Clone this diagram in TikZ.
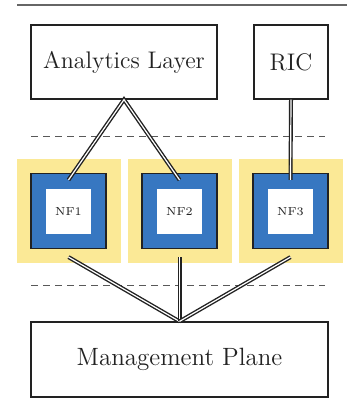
\documentclass[tikz,border=0pt]{standalone}
\usetikzlibrary{calc}
\definecolor{nfyellow}{HTML}{FBE996}
\definecolor{nfblue}{HTML}{3777C1}
\definecolor{ink}{HTML}{222222}
\begin{document}
\begin{tikzpicture}[x=0.5pt,y=-0.5pt,
  layerbox/.style={draw=ink, line width=0.6pt, fill=white, inner sep=0pt,
    font=\fontsize{12}{14}\selectfont, text=ink},
  halo/.style={fill=nfyellow, draw=none, minimum size=52pt, inner sep=0pt},
  nfbox/.style={fill=nfblue, draw=ink, line width=0.6pt, minimum size=37.5pt, inner sep=0pt},
  nfcore/.style={fill=white, draw=none, minimum size=22.5pt, inner sep=0pt,
    font=\fontsize{5.8}{7}\selectfont, text=ink},
  link/.style={draw=ink, line width=0.7pt, double=white, double distance=0.6pt},
  sep/.style={draw=black!65, line width=0.4pt, dash pattern=on 3.5pt off 2.5pt}]
\useasboundingbox (0,0) rectangle (347,410);

% rule across the top
\draw[black!60, line width=0.6pt] (17,5) -- (347,5);

% upper layer
\node[layerbox, minimum width=93pt, minimum height=37pt] (al) at (124,62) {Analytics Layer};
\node[layerbox, minimum width=37pt, minimum height=37pt] (ric) at (291,62) {RIC};

% separators
\draw[sep] (31,136) -- (325,136);
\draw[sep] (31,285) -- (325,285);

% network functions
\foreach \i/\x in {1/69, 2/180, 3/291} {
  \node[halo] (h\i) at (\x,211) {};
  \node[nfbox] (b\i) at (\x-0.5,211) {};
  \node[nfcore] (c\i) at (\x-0.5,211.5) {NF\i};
}

% management layer
\node[layerbox, minimum width=148.5pt, minimum height=37.5pt,
  font=\fontsize{12.5}{14}\selectfont] (mp) at (179.5,359.5) {Management Plane};

% links
\draw[link] ([yshift=-3.5pt]b1.north) -- (al.south) -- ([yshift=-3.5pt]b2.north);
\draw[link] (ric.south) -- ([yshift=-3.5pt]b3.north);
\draw[link] ([yshift=-4pt]b1.south) -- (mp.north);
\draw[link] ([yshift=-4pt]b2.south) -- (mp.north);
\draw[link] ([yshift=-4pt]b3.south) -- (mp.north);
\end{tikzpicture}
\end{document}
